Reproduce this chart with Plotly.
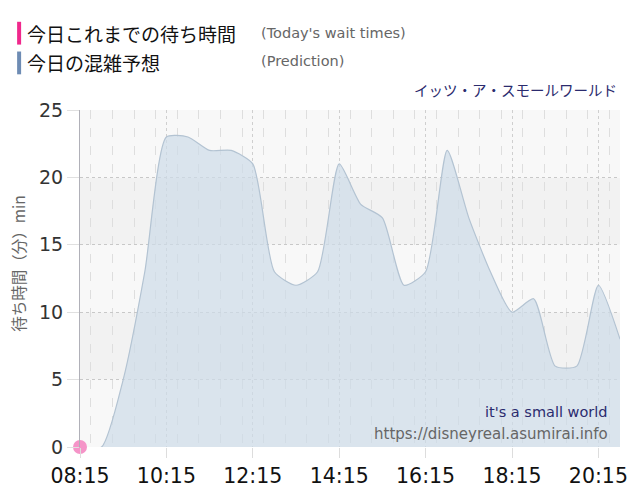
import plotly.graph_objects as go

# ---- data ----
times = ["08:15", "08:45", "09:15", "09:45", "10:15", "10:45", "11:15", "11:45",
         "12:15", "12:45", "13:15", "13:45", "14:15", "14:45", "15:15", "15:45",
         "16:15", "16:45", "17:15", "17:45", "18:15", "18:45", "19:15", "19:45",
         "20:15", "20:45"]
prediction = [0, 0, 5, 13, 23, 23, 22, 22, 21, 13, 12, 13, 21, 18, 17, 12,
              13, 22, 17, 13, 10, 11, 6, 6, 12, 8]
actual_times = ["08:15"]
actual_values = [0]
tick_labels = ["08:15", "10:15", "12:15", "14:15", "16:15", "18:15", "20:15"]

DAY = "2024-01-01 "
xs = [DAY + t for t in times]
ax_x = [DAY + t for t in actual_times]

W, H = 640, 500
L, R, T, B = 80, 19, 110, 50
PW, PH = W - L - R, H - T - B


def px(x):
    return (x - L) / PW


def py(y):
    return (H - B - y) / PH


fig = go.Figure()

fig.add_trace(go.Scatter(
    x=xs, y=prediction, mode="lines",
    line=dict(color="#b3c3d2", width=1.2, shape="spline", smoothing=0.6),
    fill="tozeroy", fillcolor="rgba(205,219,232,0.7)",
    hoverinfo="skip", showlegend=False))

fig.add_trace(go.Scatter(
    x=ax_x, y=actual_values, mode="markers",
    marker=dict(color="#f594c8", size=14, line=dict(width=0)),
    cliponaxis=False, showlegend=False, hoverinfo="skip"))

shapes = []
band_cols = ["#f8f8f8", "#f2f2f2", "#f8f8f8", "#f2f2f2", "#f8f8f8"]
for i, c in enumerate(band_cols):
    shapes.append(dict(type="rect", xref="paper", yref="y", x0=0, x1=1,
                       y0=i * 5, y1=(i + 1) * 5, fillcolor=c, line_width=0,
                       layer="below"))
shapes.append(dict(type="rect", xref="paper", yref="paper",
                   x0=px(17), x1=px(21), y0=py(44), y1=py(21),
                   fillcolor="#f0288c", line_width=0))
shapes.append(dict(type="rect", xref="paper", yref="paper",
                   x0=px(17), x1=px(21), y0=py(74), y1=py(51),
                   fillcolor="#6e8cb4", line_width=0))

annotations = [
    dict(text="今日これまでの待ち時間", x=px(25), y=py(33), xanchor="left", yanchor="middle",
         font=dict(family="Noto Sans CJK JP", size=19, color="#111")),
    dict(text="(Today's wait times)", x=px(259), y=py(32), xanchor="left", yanchor="middle",
         font=dict(family="DejaVu Sans", size=14.5, color="#666")),
    dict(text="今日の混雑予想", x=px(25), y=py(62), xanchor="left", yanchor="middle",
         font=dict(family="Noto Sans CJK JP", size=19, color="#111")),
    dict(text="(Prediction)", x=px(259), y=py(61), xanchor="left", yanchor="middle",
         font=dict(family="DejaVu Sans", size=14.5, color="#666")),
    dict(text="イッツ・ア・スモールワールド", x=px(620), y=py(89), xanchor="right", yanchor="middle",
         font=dict(family="Noto Sans CJK JP", size=14.5, color="#2b2b6e")),
    dict(text="it's a small world", x=px(611), y=py(415), xanchor="right", yanchor="middle",
         font=dict(family="DejaVu Sans", size=14.5, color="#2b2b6e")),
    dict(text="https://disneyreal.asumirai.info", x=px(611), y=py(437), xanchor="right",
         yanchor="middle", font=dict(family="DejaVu Sans", size=15, color="#666")),
    dict(text="待ち時間（分）min", x=px(18), y=py(265), xanchor="center", yanchor="middle",
         textangle=-90, font=dict(family="Noto Sans CJK JP", size=15.5, color="#666")),
]
for a in annotations:
    a.update(xref="paper", yref="paper", showarrow=False)

fig.update_layout(
    width=W, height=H,
    margin=dict(l=L, r=R, t=T, b=B, pad=0),
    paper_bgcolor="white", plot_bgcolor="rgba(0,0,0,0)",
    shapes=shapes, annotations=annotations,
    hovermode=False,
    xaxis=dict(
        type="date", range=[xs[0], xs[-1]],
        tickvals=[DAY + t for t in tick_labels], ticktext=tick_labels,
        tickfont=dict(family="DejaVu Sans", size=20.5, color="#111"),
        showgrid=True, gridcolor="#cfcfcf", griddash="dot", gridwidth=1,
        ticks="outside", ticklen=10, tickcolor="#dddddd",
        minor=dict(dtick=30 * 60 * 1000, showgrid=True, gridcolor="#dedede",
                   griddash="dash", gridwidth=1),
        showline=False, zeroline=False, fixedrange=True,
    ),
    yaxis=dict(
        range=[0, 25], tickvals=[0, 5, 10, 15, 20, 25],
        tickfont=dict(family="DejaVu Sans", size=19, color="#333"),
        showgrid=True, gridcolor="#c8c8c8", griddash="dot", gridwidth=1,
        ticks="outside", ticklen=12, tickcolor="#e0e0e0",
        showline=True, linecolor="#b0b0b8", linewidth=1,
        zeroline=False, fixedrange=True,
    ),
)

fig.write_html("out.html", config={"displayModeBar": False},
               post_script="document.body.style.margin='0';")
